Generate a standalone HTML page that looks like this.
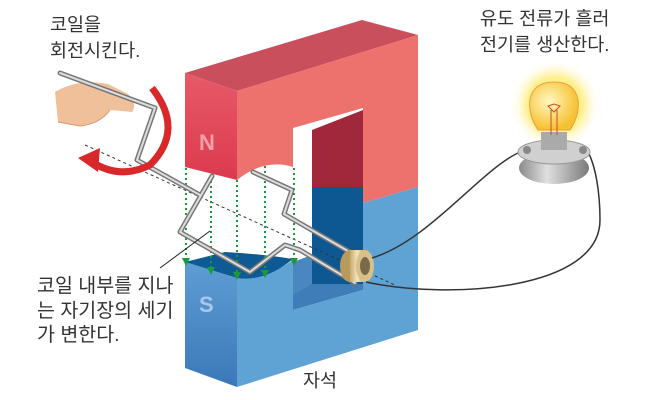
<!DOCTYPE html>
<html><head><meta charset="utf-8">
<style>
body{margin:0;background:#fff;width:667px;height:400px;overflow:hidden;}
svg{display:block}
text{font-family:"Liberation Sans","Noto Sans CJK KR",sans-serif;fill:#333;}
</style></head><body>
<svg width="667" height="400" viewBox="0 0 667 400" xmlns="http://www.w3.org/2000/svg">
<defs>
<radialGradient id="glow" cx="0.5" cy="0.5" r="0.5">
<stop offset="0" stop-color="#fff6a0"/><stop offset="0.6" stop-color="#ffeb70" stop-opacity="0.8"/><stop offset="1" stop-color="#fff" stop-opacity="0"/></radialGradient>
<radialGradient id="bulb" cx="0.4" cy="0.4" r="0.6">
<stop offset="0" stop-color="#fff8c0"/><stop offset="1" stop-color="#f6c030"/></radialGradient>
<linearGradient id="nf" x1="0" y1="0" x2="0" y2="1"><stop offset="0" stop-color="#e65a68"/><stop offset="1" stop-color="#dc3a4e"/></linearGradient>
<linearGradient id="sf" x1="0" y1="0" x2="0" y2="1"><stop offset="0" stop-color="#5e9dd3"/><stop offset="1" stop-color="#3b78b8"/></linearGradient>
<linearGradient id="brass" x1="0" y1="0" x2="1" y2="0"><stop offset="0" stop-color="#c8aa6c"/><stop offset="0.5" stop-color="#f3e6bc"/><stop offset="1" stop-color="#b89a5c"/></linearGradient>
<linearGradient id="base" x1="0" y1="0" x2="1" y2="0"><stop offset="0" stop-color="#8a8a8a"/><stop offset="0.4" stop-color="#e0e0e0"/><stop offset="1" stop-color="#7a7a7a"/></linearGradient>
</defs>

<!-- texts -->
<text x="50" y="31" font-size="18.5">코일을</text>
<text x="50" y="57" font-size="18.5">회전시킨다.</text>
<text x="480" y="25" font-size="18.5">유도 전류가 흘러</text>
<text x="480" y="51" font-size="18.5">전기를 생산한다.</text>
<text x="37" y="292" font-size="19.5">코일 내부를 지나</text>
<text x="37" y="317" font-size="19.5">는 자기장의 세기</text>
<text x="37" y="341" font-size="19.5">가 변한다.</text>
<text x="303" y="387" font-size="18.5">자석</text>

<!-- magnet red -->
<polygon points="185,73 237,91 418,35 362,20" fill="#c94f5c"/>
<path d="M237,91 L418,35 L418,187 L363,203 L363,108 L293,128 L293,167 Q265,158 237,180 Z" fill="#ed716d"/>
<path d="M185,73 L237,91 L237,180 L185,167 Z" fill="url(#nf)"/>
<polygon points="312,130 363,110 363,187 312,187" fill="#a1283a"/>
<!-- magnet blue -->
<polygon points="312,187 363,187 363,285 312,285" fill="#0d5892"/>
<polygon points="293,262 312,255 312,300 293,310" fill="#4a86c0"/>
<polygon points="293,310 363,290 363,284 312,284 293,295" fill="#3f7db9"/>
<path d="M237,278 Q265,280 293,260 L293,310 L363,290 L363,203 L418,187 L418,330 L237,387 Z" fill="#5fa3d4"/>
<path d="M185,262 L237,278 L237,387 L185,368 Z" fill="url(#sf)"/>
<path d="M185,262 L225,252 Q262,254 293,259 Q265,282 237,278 Z" fill="#0e5a94"/>
<text x="199" y="150" font-size="22" font-weight="bold" style="fill:#f2a0a8">N</text>
<text x="199" y="312" font-size="22" font-weight="bold" style="fill:#a8c8ec">S</text>

<!-- axis dashed -->
<line x1="85" y1="145" x2="395" y2="285" stroke="#333" stroke-width="1" stroke-dasharray="3,3"/>

<!-- field lines -->
<g stroke="#1a9a3a" stroke-width="2" stroke-dasharray="2,3" fill="none">
<line x1="186" y1="168" x2="186" y2="258"/><line x1="211" y1="176" x2="211" y2="267"/>
<line x1="237" y1="180" x2="237" y2="272"/><line x1="265" y1="166" x2="265" y2="270"/>
<line x1="294" y1="168" x2="294" y2="258"/>
</g>
<g fill="#1a9a3a">
<polygon points="182,258 190,258 186,266"/><polygon points="207,267 215,267 211,275"/>
<polygon points="233,272 241,272 237,280"/><polygon points="261,270 269,270 265,278"/>
<polygon points="290,258 298,258 294,266"/>
</g>

<!-- hand -->
<path d="M55,92 Q78,78 108,84 L128,94 Q138,104 132,112 L110,110 Q100,124 80,126 L58,122 Z" fill="#f0c09a"/>
<path d="M58,122 L80,126 Q100,124 110,110" stroke="#d09a70" fill="none"/>

<!-- coil -->
<g fill="none" stroke-linecap="round" stroke-linejoin="round">
<path d="M60,73 L155,108 L137,160 L200,195 M212,176 L180,232 L250,272 L285,245 L300,250 L355,283 M253,172 L292,190 L284,214 L360,258" stroke="#777" stroke-width="5"/>
<path d="M60,73 L155,108 L137,160 L200,195 M212,176 L180,232 L250,272 L285,245 L300,250 L355,283 M253,172 L292,190 L284,214 L360,258" stroke="#ddd" stroke-width="2"/>
</g>
<!-- commutator -->
<ellipse cx="350" cy="266" rx="10" ry="16" fill="#b89a5c"/>
<rect x="350" y="250" width="15" height="32" fill="url(#brass)"/>
<ellipse cx="365" cy="266" rx="9" ry="16" fill="#d8c08a"/>
<ellipse cx="365" cy="266" rx="5" ry="9" fill="#7a6a4a"/>

<!-- wires -->
<path d="M372,258 C430,240 480,170 520,152" stroke="#333" stroke-width="1.5" fill="none"/>
<path d="M366,282 C450,300 600,290 600,220 C600,190 595,165 588,152" stroke="#333" stroke-width="1.5" fill="none"/>

<!-- red arrow -->
<path d="M152,88 Q185,130 150,165 Q120,180 92,162" stroke="#d8282a" stroke-width="7" fill="none"/>
<polygon points="78,158 100,148 98,172" fill="#d8282a"/>

<!-- bulb -->
<circle cx="555" cy="105" r="46" fill="url(#glow)"/>
<ellipse cx="554" cy="168" rx="35" ry="16" fill="url(#base)"/>
<ellipse cx="554" cy="152" rx="36" ry="12" fill="#d0d0d0" stroke="#999"/>
<rect x="541" y="132" width="26" height="18" fill="#aaa"/>
<path d="M538,130 Q528,115 530,100 Q533,82 554,82 Q575,82 578,100 Q580,115 570,130 Z" fill="url(#bulb)" stroke="#e8a040"/>
<path d="M548,106 L554,112 L560,106 L554,104 Z M551,110 L551,135 M557,110 L557,135" stroke="#c05030" fill="none"/>
<circle cx="527" cy="150" r="4" fill="#888"/><circle cx="583" cy="150" r="4" fill="#888"/>

<line x1="160" y1="268" x2="210" y2="231" stroke="#222" stroke-width="1"/>
</svg>
</body></html>
